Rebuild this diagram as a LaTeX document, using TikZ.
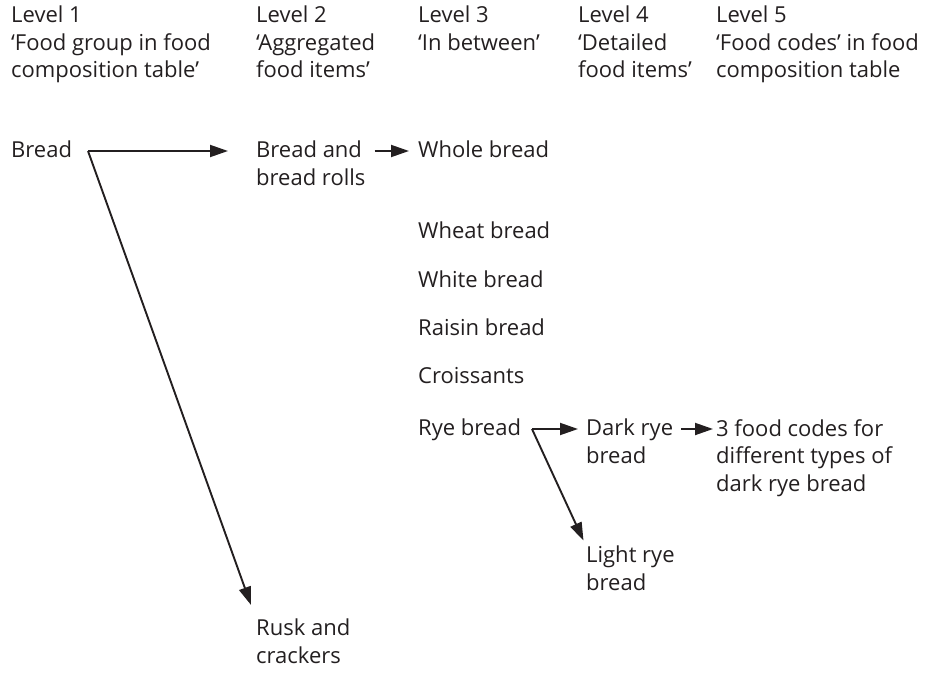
\documentclass[tikz,border=0pt]{standalone}
\usepackage{fontspec}
\setmainfont{Open Sans}
\usepackage{xcolor}
\definecolor{ink}{HTML}{231F20}
\usepackage{tikz}
\usetikzlibrary{arrows.meta}

\begin{document}
\begin{tikzpicture}[x=1bp,y=-1bp,>={Triangle[length=18bp,width=12bp]},
  every node/.style={font=\fontsize{22bp}{27.5bp}\selectfont,text=ink,inner sep=0pt,anchor=north west,align=left},
  arr/.style={->,draw=ink,line width=1.9bp}]
\useasboundingbox (0,0) rectangle (949,674);
% column heads
\node (lv1) at (11,6) {Level 1\\`Food group in food\\composition table'};
\node (lv2) at (256,6) {Level 2\\`Aggregated\\food items'};
\node (lv3) at (418,6) {Level 3\\`In between'};
\node (lv4) at (578,6) {Level 4\\`Detailed\\food items'};
\node (lv5) at (716,6) {Level 5\\`Food codes' in food\\composition table};
% items
\node (bread) at (11,141) {Bread};
\node (rolls) at (256,141) {Bread and\\bread rolls};
\node (rusk) at (256,619) {Rusk and\\crackers};
\node (whole) at (418,141) {Whole bread};
\node (wheat) at (418,222) {Wheat bread};
\node (white) at (418,271) {White bread};
\node (raisin) at (418,319) {Raisin bread};
\node (crois) at (418,367) {Croissants};
\node (rye) at (418,419) {Rye bread};
\node (darkrye) at (586,419) {Dark rye\\bread};
\node (lightrye) at (586,546) {Light rye\\bread};
\node (codes) at (716,419) {3 food codes for\\different types of\\dark rye bread};
% connectors
\coordinate (bj) at (88,151);
\coordinate (rj) at (532,429);
\draw[arr,shorten >=28bp] (bj) -- (bj -| rolls.west);
\draw[arr,shorten >=15bp] (bj) -- (rusk.north west);
\draw[arr,shorten >=9bp] ([xshift=9bp]bj -| rolls.east) -- (bj -| whole.west);
\draw[arr,shorten >=8bp] (rj) -- (rj -| darkrye.west);
\draw[arr,shorten >=6bp] (rj) -- (lightrye.north west);
\draw[arr,shorten >=3bp] ([xshift=8bp]rj -| darkrye.east) -- (rj -| codes.west);
\end{tikzpicture}
\end{document}
